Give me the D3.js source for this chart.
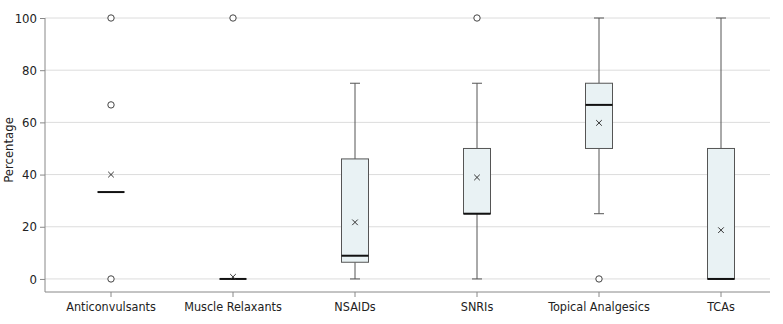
<!DOCTYPE html>
<html>
<head>
<meta charset="utf-8">
<script src="https://cdn.jsdelivr.net/npm/d3@7"></script>
<style>
  body { margin: 0; background: #fff; }
  svg text { font-family: "Liberation Sans Narrow", "DejaVu Sans Condensed", sans-serif; fill: #222; }
</style>
</head>
<body>
<div id="chart"></div>
<script>
// Box plot data
const categories = ["Anticonvulsants", "Muscle Relaxants", "NSAIDs", "SNRIs", "Topical Analgesics", "TCAs"];
const mins    = [null, null, 0, 0, 25, 0];
const q1s     = [33.3, 0, 6.4, 25, 50, 0];
const medians = [33.3, 0, 8.9, 25, 66.7, 0];
const q3s     = [33.3, 0, 46, 50, 75, 50];
const maxs    = [null, null, 75, 75, 100, 100];
const means   = [40, 0.8, 21.7, 38.9, 59.8, 18.7];
const outliers = [[0, 66.7, 100], [100], [], [100], [0], []];
const yTicks = [0, 20, 40, 60, 80, 100];

const W = 783, H = 324;
const plotLeft = 45, plotRight = 770, plotTop = 18, plotBottom = 292;

const svg = d3.select("#chart").append("svg")
  .attr("width", W).attr("height", H);

const x = d3.scaleBand().domain(categories).range([50, 782]);
const y = d3.scaleLinear().domain([-5, 100]).range([plotBottom, plotTop]);
const cx = c => x(c) + x.bandwidth() / 2;
const boxW = 27, capW = 10;

// gridlines
svg.append("g").selectAll("line").data(yTicks).join("line")
  .attr("x1", plotLeft).attr("x2", plotRight)
  .attr("y1", d => y(d)).attr("y2", d => y(d))
  .attr("stroke", "#dcdcdc").attr("stroke-width", 1);

// y axis
const yAxis = svg.append("g").attr("transform", `translate(${plotLeft},0)`)
  .call(d3.axisLeft(y).tickValues(yTicks).tickSize(5).tickPadding(3));
yAxis.select(".domain").attr("d", `M0,${plotTop}V${plotBottom}`).attr("stroke", "#888");
yAxis.selectAll(".tick line").attr("stroke", "#888");
yAxis.selectAll("text").style("font-size", "13px");

// x axis
const xAxis = svg.append("g").attr("transform", `translate(0,${plotBottom})`)
  .call(d3.axisBottom(x).tickSize(5).tickPadding(5));
xAxis.select(".domain").attr("d", `M${plotLeft},0H${plotRight}`).attr("stroke", "#888");
xAxis.selectAll(".tick line").attr("stroke", "#888");
xAxis.selectAll("text").style("font-size", "12.5px");

svg.append("text")
  .attr("transform", `translate(13,${(plotTop + plotBottom) / 2 - 5}) rotate(-90)`)
  .attr("text-anchor", "middle")
  .style("font-size", "13px")
  .text("Percentage");

const boxes = categories.map((c, i) => ({
  key: c, min: mins[i], q1: q1s[i], median: medians[i], q3: q3s[i],
  max: maxs[i], mean: means[i], outliers: outliers[i]
}));

const g = svg.append("g");

// whiskers
const wh = boxes.filter(d => d.min !== null);
g.selectAll(".lowWhisker").data(wh).join("line")
  .attr("x1", d => cx(d.key)).attr("x2", d => cx(d.key))
  .attr("y1", d => y(d.min)).attr("y2", d => y(d.q1))
  .attr("stroke", "#555").attr("stroke-width", 1);
g.selectAll(".highWhisker").data(wh).join("line")
  .attr("x1", d => cx(d.key)).attr("x2", d => cx(d.key))
  .attr("y1", d => y(d.q3)).attr("y2", d => y(d.max))
  .attr("stroke", "#555").attr("stroke-width", 1);
g.selectAll(".minCap").data(wh).join("line")
  .attr("x1", d => cx(d.key) - capW / 2).attr("x2", d => cx(d.key) + capW / 2)
  .attr("y1", d => y(d.min)).attr("y2", d => y(d.min))
  .attr("stroke", "#555").attr("stroke-width", 1);
g.selectAll(".maxCap").data(wh).join("line")
  .attr("x1", d => cx(d.key) - capW / 2).attr("x2", d => cx(d.key) + capW / 2)
  .attr("y1", d => y(d.max)).attr("y2", d => y(d.max))
  .attr("stroke", "#555").attr("stroke-width", 1);

// boxes
g.selectAll(".box").data(boxes.filter(d => d.q3 > d.q1)).join("rect")
  .attr("x", d => cx(d.key) - boxW / 2)
  .attr("y", d => y(d.q3))
  .attr("width", boxW)
  .attr("height", d => y(d.q1) - y(d.q3))
  .attr("fill", "#e9f2f4")
  .attr("stroke", "#555").attr("stroke-width", 1);

// medians
g.selectAll(".median").data(boxes).join("line")
  .attr("x1", d => cx(d.key) - boxW / 2).attr("x2", d => cx(d.key) + boxW / 2)
  .attr("y1", d => y(d.median)).attr("y2", d => y(d.median))
  .attr("stroke", "#111").attr("stroke-width", 2);

// means (x markers)
const m = 2.8;
g.selectAll(".mean").data(boxes).join("path")
  .attr("d", d => {
    const px = cx(d.key), py = y(d.mean);
    return `M${px - m},${py - m}L${px + m},${py + m}M${px - m},${py + m}L${px + m},${py - m}`;
  })
  .attr("stroke", "#333").attr("stroke-width", 1).attr("fill", "none");

// outliers
const pts = boxes.flatMap(d => d.outliers.map(v => ({ key: d.key, v })));
g.selectAll(".outlier").data(pts).join("circle")
  .attr("cx", d => cx(d.key)).attr("cy", d => y(d.v))
  .attr("r", 3.2)
  .attr("fill", "#fff").attr("stroke", "#444").attr("stroke-width", 1);
</script>
</body>
</html>
